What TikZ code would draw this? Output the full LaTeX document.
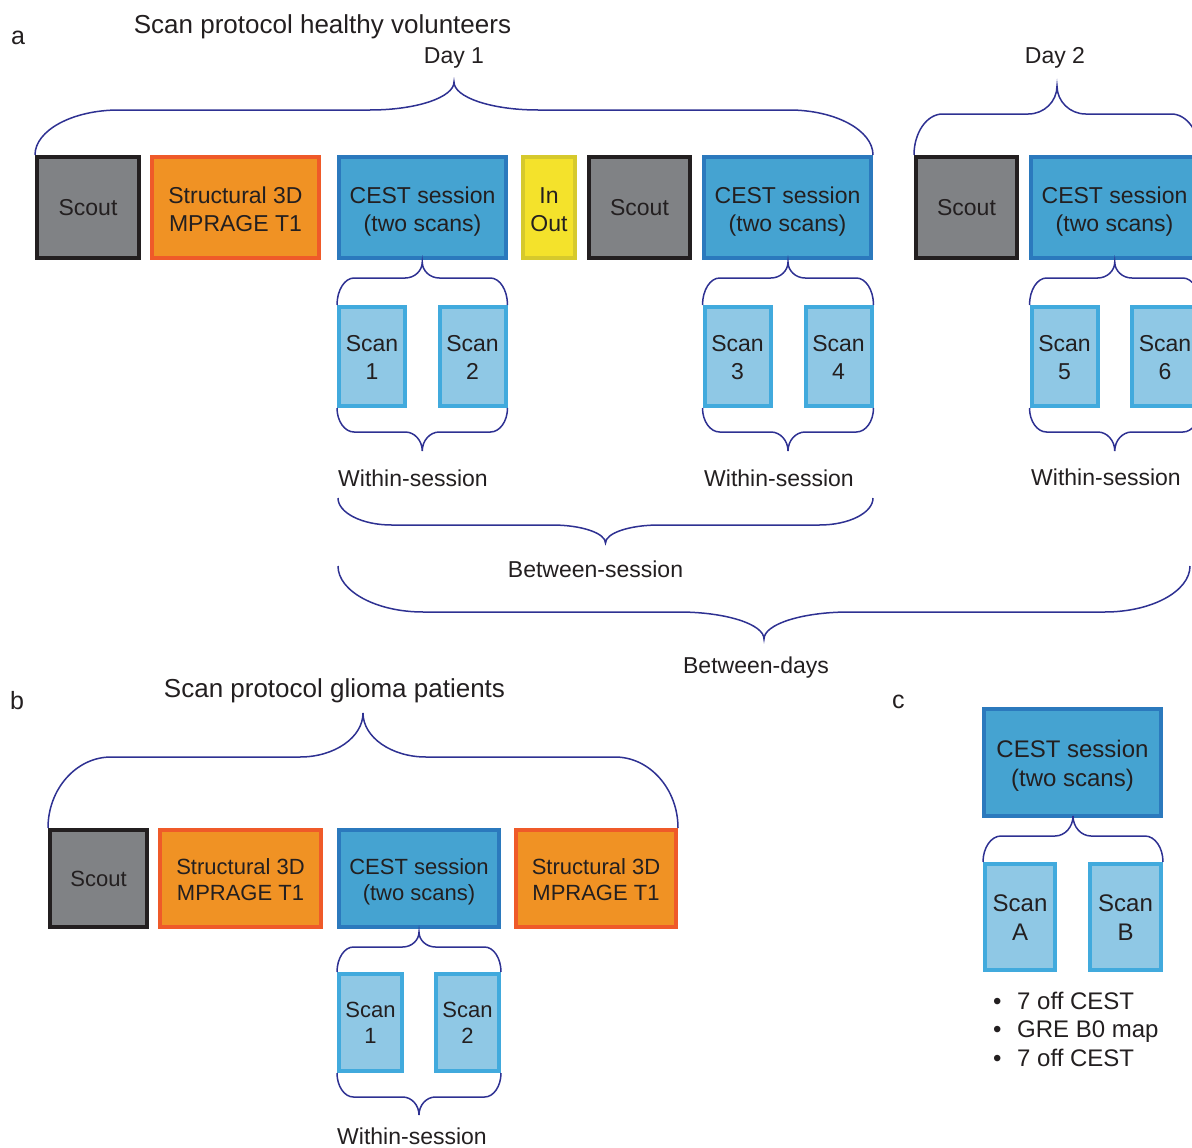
\documentclass[tikz,border=0pt]{standalone}
\usepackage{fontspec}
\setmainfont{Liberation Sans}
\usetikzlibrary{calc}

\definecolor{txtcol}{HTML}{231F20}
\definecolor{scoutline}{HTML}{231F20}
\definecolor{scoutfill}{HTML}{808285}
\definecolor{structline}{HTML}{EF5A29}
\definecolor{structfill}{HTML}{F09224}
\definecolor{cestline}{HTML}{2B79BD}
\definecolor{cestfill}{HTML}{45A3D1}
\definecolor{scanline}{HTML}{41AADD}
\definecolor{scanfill}{HTML}{8FC8E5}
\definecolor{inoutline}{HTML}{D6C92C}
\definecolor{inoutfill}{HTML}{F4E22B}
\definecolor{bracecol}{HTML}{2E3192}

% curly brace between two points on one level: #3 end rise, #4 tip rise (up is positive)
\newcommand{\curlybrace}[4]{%
  \draw [bracestyle] let \p1=#1, \p2=#2, \n1={0.1*(\x2-\x1)}, \n2={(\x1+\x2)/2} in
    (\p1) .. controls (\x1,{\y1+0.55*(#3)}) and ({\x1+0.45*\n1},{\y1+(#3)}) .. ({\x1+\n1},{\y1+(#3)})
    -- ({\n2-\n1},{\y1+(#3)}) .. controls ({\n2-0.45*\n1},{\y1+(#3)}) and (\n2,{\y1+(#3)+0.45*(#4)}) .. (\n2,{\y1+(#3)+(#4)})
    .. controls (\n2,{\y1+(#3)+0.45*(#4)}) and ({\n2+0.45*\n1},{\y1+(#3)}) .. ({\n2+\n1},{\y1+(#3)})
    -- ({\x2-\n1},{\y1+(#3)}) .. controls ({\x2-0.45*\n1},{\y1+(#3)}) and (\x2,{\y1+0.55*(#3)}) .. (\p2);
}

\begin{document}
\begin{tikzpicture}[x=1pt, y=-1pt,
    every node/.style={text=txtcol, inner sep=0pt},
    box/.style={draw, line width=4pt, align=center, font=\fontsize{23}{28}\selectfont},
    twoline/.style={text height=#1, text depth=0pt},
    twoline/.default=47.5pt,
    scoutbox/.style={box, draw=scoutline, fill=scoutfill},
    structbox/.style={box, twoline, draw=structline, fill=structfill},
    cestbox/.style={box, twoline, draw=cestline, fill=cestfill},
    inoutbox/.style={box, twoline, draw=inoutline, fill=inoutfill},
    scanbox/.style={box, twoline=45.5pt, draw=scanline, fill=scanfill},
    rowb/.style={font=\fontsize{22}{26}\selectfont},
    rowc/.style={font=\fontsize{24}{29}\selectfont},
    notetext/.style={font=\fontsize{23}{28}\selectfont, anchor=base},
    heading/.style={font=\fontsize{26}{31}\selectfont, anchor=base},
    panel/.style={font=\fontsize{25}{30}\selectfont, anchor=base west},
    bracestyle/.style={draw=bracecol, line width=1.5pt}
]
    \useasboundingbox (0,0) rectangle (1192,1148);
    \clip (0,0) rectangle (1192,1148);

    % Panel a: healthy volunteers
    \node (panelA) [panel] at (11,45) {a};
    \node (titleA) [heading] at (322.5,34) {Scan protocol healthy volunteers};
    \node (day1) [notetext] at (454,64) {Day 1};
    \node (day2) [notetext] at (1055,64) {Day 2};

    \node (scoutA) [scoutbox, minimum width=102pt, minimum height=101pt] at (88,207.5) {Scout};
    \node (structA) [structbox, minimum width=167pt, minimum height=101pt] at (235.5,207.5) {Structural 3D\\MPRAGE T1};
    \node (cestA) [cestbox, minimum width=167pt, minimum height=101pt] at (422.5,207.5) {CEST session\\(two scans)};
    \node (inout) [inoutbox, minimum width=52pt, minimum height=101pt] at (549,207.5) {In\\Out};
    \node (scoutB) [scoutbox, minimum width=101pt, minimum height=101pt] at (639.5,207.5) {Scout};
    \node (cestB) [cestbox, minimum width=167pt, minimum height=101pt] at (787.5,207.5) {CEST session\\(two scans)};
    \node (scoutC) [scoutbox, minimum width=101pt, minimum height=101pt] at (966.5,207.5) {Scout};
    \node (cestC) [cestbox, minimum width=167pt, minimum height=101pt] at (1114.5,207.5) {CEST session\\(two scans)};

    \node (scan1) [scanbox, minimum width=66pt, minimum height=99pt] at (372,356.5) {Scan\\1};
    \node (scan2) [scanbox, minimum width=66pt, minimum height=99pt] at (472.5,356.5) {Scan\\2};
    \node (scan3) [scanbox, minimum width=66pt, minimum height=99pt] at (737.5,356.5) {Scan\\3};
    \node (scan4) [scanbox, minimum width=66pt, minimum height=99pt] at (838.5,356.5) {Scan\\4};
    \node (scan5) [scanbox, minimum width=66pt, minimum height=99pt] at (1064.5,356.5) {Scan\\5};
    \node (scan6) [scanbox, minimum width=66pt, minimum height=99pt] at (1165,356.5) {Scan\\6};

    \node (withinA) [notetext, anchor=base west] at (338,486) {Within-session};
    \node (withinB) [notetext, anchor=base west] at (704,486) {Within-session};
    \node (withinC) [notetext, anchor=base west] at (1031,485) {Within-session};
    \node (betses) [notetext] at (595.5,577) {Between-session};
    \node (betdays) [notetext] at (756,673) {Between-days};

    \coordinate (betsesL) at (338,498);
    \coordinate (betsesR) at (873,498);
    \coordinate (betdaysL) at (338,566);
    \coordinate (betdaysR) at (1190,566);

    % Braces panel a
    \curlybrace{(scoutA.north west)}{(cestB.north east)}{45pt}{28pt}
    \curlybrace{(scoutC.north west)}{(cestC.north east)}{41pt}{28pt}
    \curlybrace{(scan1.north west)}{(scan2.north east)}{27pt}{16pt}
    \curlybrace{(scan3.north west)}{(scan4.north east)}{27pt}{16pt}
    \curlybrace{(scan5.north west)}{(scan6.north east)}{27pt}{16pt}
    \curlybrace{(scan1.south west)}{(scan2.south east)}{-24pt}{-19pt}
    \curlybrace{(scan3.south west)}{(scan4.south east)}{-24pt}{-19pt}
    \curlybrace{(scan5.south west)}{(scan6.south east)}{-24pt}{-19pt}
    \curlybrace{(betsesL)}{(betsesR)}{-27pt}{-18pt}
    \curlybrace{(betdaysL)}{(betdaysR)}{-46pt}{-27pt}

    % Panel b: glioma patients
    \node (panelB) [panel] at (10,709) {b};
    \node (titleB) [heading] at (334.5,697) {Scan protocol glioma patients};

    \node (scoutP) [scoutbox, rowb, minimum width=97pt, minimum height=97pt] at (98.5,878.5) {Scout};
    \node (structP) [structbox, rowb, twoline=43pt, minimum width=161pt, minimum height=97pt] at (240.5,878.5) {Structural 3D\\MPRAGE T1};
    \node (cestP) [cestbox, rowb, twoline=43pt, minimum width=160pt, minimum height=97pt] at (419,878.5) {CEST session\\(two scans)};
    \node (structQ) [structbox, rowb, twoline=43pt, minimum width=160pt, minimum height=97pt] at (596,878.5) {Structural 3D\\MPRAGE T1};

    \node (scanP1) [scanbox, rowb, twoline=42pt, minimum width=63pt, minimum height=97pt] at (370.5,1022.5) {Scan\\1};
    \node (scanP2) [scanbox, rowb, twoline=42pt, minimum width=63pt, minimum height=97pt] at (467.5,1022.5) {Scan\\2};

    \node (withinP) [notetext, anchor=base west] at (337,1144.5) {Within-session};

    % Braces panel b
    \curlybrace{(scoutP.north west)}{(structQ.north east)}{71pt}{44pt}
    \curlybrace{(scanP1.north west)}{(scanP2.north east)}{25pt}{15pt}
    \curlybrace{(scanP1.south west)}{(scanP2.south east)}{-24pt}{-18pt}

    % Panel c: one CEST session
    \node (panelC) [panel] at (892,708) {c};

    \node (cestR) [cestbox, rowc, twoline=48pt, minimum width=177pt, minimum height=107pt] at (1072.5,762.5) {CEST session\\(two scans)};
    \node (scanRA) [scanbox, rowc, twoline=47pt, minimum width=70pt, minimum height=106pt] at (1020,917) {Scan\\A};
    \node (scanRB) [scanbox, rowc, twoline=47pt, minimum width=71pt, minimum height=106pt] at (1125.5,917) {Scan\\B};

    \node (scanlist) [anchor=north west, align=left, font=\fontsize{24}{28.5}\selectfont] at (993,991.5)
        {•\hspace{15.6pt}7 off CEST\\ •\hspace{15.6pt}GRE B0 map\\ •\hspace{15.6pt}7 off CEST};

    \curlybrace{(scanRA.north west)}{(scanRB.north east)}{26pt}{20pt}

\end{tikzpicture}
\end{document}
